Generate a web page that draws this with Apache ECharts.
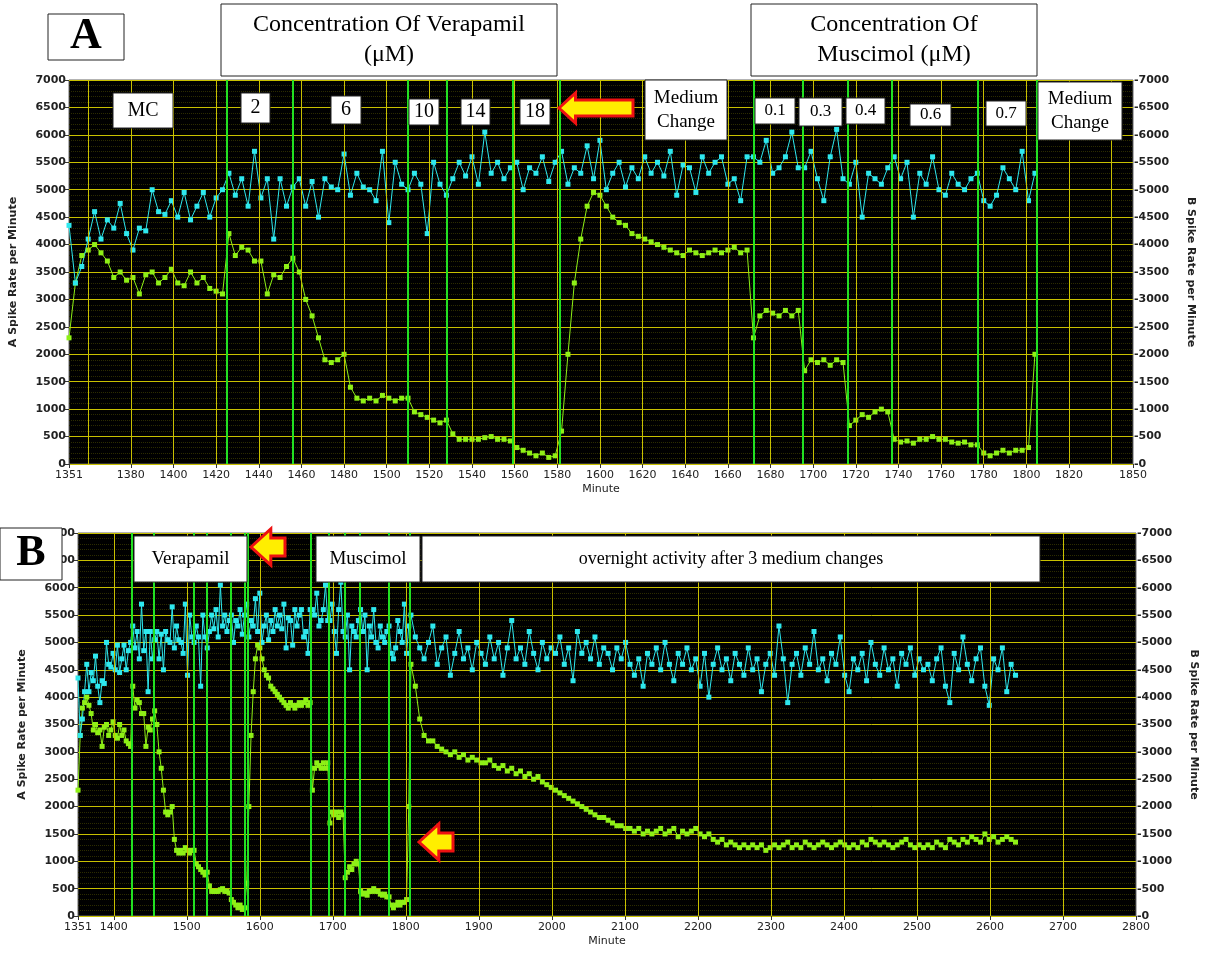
<!DOCTYPE html>
<html><head><meta charset="utf-8">
<script src="https://cdn.jsdelivr.net/npm/echarts@6/dist/echarts.min.js"></script>
<style>html,body{margin:0;padding:0;background:#fff}#c{width:1207px;height:957px}</style>
</head><body><div id="c"></div>
<script>
// ---- data ----
const startA = 1351, stepA = 3;
const greenA = [2300,3300,3800,3900,4000,3850,3700,3400,3500,3350,3400,3100,3450,3500,3300,3400,3550,3300,3250,3500,3300,3400,3200,3150,3100,
4200,3800,3950,3900,3700,3700,3100,3450,3400,3600,3750,
3500,3000,2700,2300,1900,1850,1900,2000,1400,1200,1150,1200,1150,1250,1200,1150,1200,1200,
950,900,850,800,750,800,
550,450,450,450,450,480,500,450,450,420,
300,250,200,150,200,120,150,
600,2000,3300,4100,4700,4950,4900,4700,4500,4400,4350,4200,4150,4100,4050,4000,3950,3900,3850,3800,3900,3850,3800,3850,3900,3850,3900,3950,3850,3900,
2300,2700,2800,2750,2700,2800,2700,2800,
1700,1900,1850,1900,1800,1900,1850,
700,800,900,850,950,1000,950,
450,400,420,380,450,450,500,450,450,400,380,400,350,
350,200,150,200,250,200,250,250,300,2000];
const cyanA = [4350,3300,3600,4100,4600,4100,4450,4300,4750,4200,3900,4300,4250,5000,4600,4550,4800,4500,4950,4450,4700,4950,4500,4850,5000,
5300,4900,5200,4700,5700,4850,5200,4100,5200,4700,5050,
5200,4700,5150,4500,5200,5050,5000,5650,4900,5300,5050,5000,4800,5700,4400,5500,5100,5000,
5300,5100,4200,5500,5100,4900,
5200,5500,5250,5600,5100,6050,5300,5500,5200,5400,
5500,5000,5400,5300,5600,5150,5500,
5700,5100,5400,5300,5800,5200,5900,5000,5300,5500,5050,5400,5200,5600,5300,5500,5250,5700,4900,5450,5400,4950,5600,5300,5500,5600,5100,5200,4800,5600,
5600,5500,5900,5300,5400,5600,6050,5400,
5400,5700,5200,4800,5600,6100,5200,
5100,5500,4500,5300,5200,5100,5400,
5600,5200,5500,4500,5300,5100,5600,5000,4900,5300,5100,5000,5200,
5300,4800,4700,4900,5400,5200,5000,5700,4800,5300];
const startExt = 1807, stepExt = 6;
const greenExt = [4600,4200,3600,3300,3200,3200,3100,
3050,3000,2950,3000,2900,2950,2850,2900,2850,2800,
2800,2850,2750,2700,2750,2650,2700,2600,2650,2550,2600,2500,2550,2450,2400,2350,
2300,2250,2200,2150,2100,2050,2000,1950,1900,1850,1800,1800,1750,1700,1650,1650,1600,
1600,1550,1600,1500,1550,1500,1550,1600,1500,1550,1600,1450,1550,1500,1550,1600,1500,
1450,1500,1400,1350,1400,1300,1350,1300,1250,1300,1250,1300,1250,1300,1200,1250,1300,
1250,1300,1350,1250,1300,1250,1350,1300,1250,1300,1350,1300,1250,1300,1350,1300,1250,
1300,1250,1350,1300,1400,1350,1300,1350,1300,1250,1300,1350,1400,1300,1250,1300,1250,
1300,1250,1350,1300,1250,1400,1350,1300,1400,1350,1450,1400,1350,1500,1400,1450,1350,1400,1450,1400,1350];
const cyanExt = [5500,5100,4900,4700,5000,5300,4600,4900,5100,4400,4800,5200,4700,4900,4500,5000,4800,
4600,5100,4700,5000,4400,4900,5400,4700,4900,4600,5200,4800,4500,5000,4700,4900,4800,
5100,4600,4900,4300,5200,4800,5000,4700,5100,4600,4900,4800,4500,4900,4700,5000,4600,
4400,4700,4200,4800,4600,4900,4500,5000,4600,4300,4800,4600,4900,4500,4700,4200,4800,
4000,4600,4900,4500,4700,4300,4800,4600,4400,4900,4500,4700,4100,4600,4800,4400,5300,
4700,3900,4600,4800,4400,4900,4600,5200,4500,4700,4300,4800,4600,5100,4400,4100,4700,
4500,4800,4300,5000,4600,4400,4900,4500,4700,4200,4800,4600,4900,4400,4700,4500,4600,
4300,4700,4900,4200,3900,4800,4500,5100,4600,4300,4700,4900,4200,3850,4700,4500,4900,4100,4600,4400];
const labelsA = [1351,1380,1400,1420,1440,1460,1480,1500,1520,1540,1560,1580,1600,1620,1640,1660,1680,1700,1720,1740,1760,1780,1800,1820,1850];
const labelsB = [1351,1400,1500,1600,1700,1800,1900,2000,2100,2200,2300,2400,2500,2600,2700,2800];
const gridA = [1360,1380,1400,1420,1440,1460,1480,1500,1520,1540,1560,1580,1600,1620,1640,1660,1680,1700,1720,1740,1760,1780,1800,1820,1840];
const gridB = [1400,1500,1600,1700,1800,1900,2000,2100,2200,2300,2400,2500,2600,2700];
const eventsA = [1425,1456,1510,1528,1559,1581,1672,1695,1716,1737,1777,1805];
const eventsB = [1425,1455,1510,1527,1560,1580,1583,1670,1695,1716,1737,1777,1805];

const pairs = (s, st, arr) => arr.map((v,i)=>[s+i*st, v]);
const dA_g = pairs(startA, stepA, greenA), dA_c = pairs(startA, stepA, cyanA);
const dB_g = dA_g.concat(pairs(startExt, stepExt, greenExt));
const dB_c = dA_c.concat(pairs(startExt, stepExt, cyanExt));

const CYAN = '#2ee8ee', GREEN = '#8ef016';
const font = 'DejaVu Sans';
function xAx(gi, min, max, labels){
  return {type:'value', gridIndex:gi, min, max, name:'Minute', nameLocation:'middle', nameGap:20,
    nameTextStyle:{fontFamily:font,fontSize:11,color:'#222'},
    axisLine:{show:false}, splitLine:{show:false},
    axisTick:{show:true, customValues:labels, length:4, lineStyle:{color:'#333'}},
    axisLabel:{customValues:labels, formatter:v=>String(v), fontFamily:font, fontSize:11, color:'#222', margin:6}};
}
function yAx(gi, pos, name){
  const left = pos==='left';
  return {type:'value', gridIndex:gi, min:0, max:7000, interval:500, position:pos,
    name, nameLocation:'middle', nameGap: left?50:52, nameRotate: left?90:-90,
    nameTextStyle:{fontFamily:font,fontSize:11,fontWeight:'bold',color:'#222'},
    axisLine:{show:false}, axisTick:{show:left,length:5,lineStyle:{color:'#333'}},
    axisLabel:{formatter: left ? (v=>String(v)) : (v=>'-'+v), fontFamily:font,fontSize:11,color:'#222',margin:left?3:1,fontWeight:'bold'},
    splitLine:{show:left, lineStyle:{color:'#c8c000',width:1}},
    minorTick:{show:false}, minorSplitLine:{show:left, lineStyle:{color:'#2c2c00',width:1,type:'dotted'}}};
}
function vlines(xi, yi, xs, color, width, z){
  return {type:'line', xAxisIndex:xi, yAxisIndex:yi, data:[], silent:true, z,
    markLine:{symbol:'none', silent:true, label:{show:false}, animation:false,
      lineStyle:{color, width, type:'solid'}, data: xs.map(x=>({xAxis:x}))}};
}
function ser(xi, yi, data, color, z){
  return {type:'line', xAxisIndex:xi, yAxisIndex:yi, data, symbol:'rect', symbolSize:5, z,
    lineStyle:{color, width:1}, itemStyle:{color}, animation:false};
}
const serif = 'Liberation Serif';
function box(x,y,w,h,text,fs,extra){
  return {type:'group', z:100, children:[
    {type:'rect', z:100, shape:{x,y,width:w,height:h}, style:{fill:'#fff', stroke:'#222', lineWidth:1}},
    {type:'text', z:101, x:x+w/2, y:y+h/2, style:Object.assign({text, font:fs+'px "'+serif+'"', fill:'#000', align:'center', verticalAlign:'middle', lineHeight:fs*1.25}, extra||{})}]};
}
function arrow(tipX, tipY, len, hh, sh){
  const hx = tipX + hh*1.1;
  return {type:'polygon', z:102, shape:{points:[[tipX,tipY],[hx,tipY-hh],[hx,tipY-sh],[tipX+len,tipY-sh],[tipX+len,tipY+sh],[hx,tipY+sh],[hx,tipY+hh]]},
    style:{fill:'#ffee00', stroke:'#ee1111', lineWidth:3}};
}
const chart = echarts.init(document.getElementById('c'));
chart.setOption({
  backgroundColor:'#fff', animation:false,
  grid:[{left:66, right:74, top:80, height:384, show:true, backgroundColor:'#000', borderColor:'#666'},
        {left:78, right:54, top:533, height:383, show:true, backgroundColor:'#000', borderColor:'#666'}],
  xAxis:[xAx(0,1351,1850,labelsA), xAx(1,1351,2800,labelsB)],
  yAxis:[yAx(0,'left','A Spike Rate per Minute'), yAx(0,'right','B Spike Rate per Minute'),
         yAx(1,'left','A Spike Rate per Minute'), yAx(1,'right','B Spike Rate per Minute')],
  series:[
    vlines(0,0,gridA,'#c8c000',1,1),
    vlines(1,2,gridB,'#c8c000',1,1),
    ser(0,0,dA_g,GREEN,3), ser(0,1,dA_c,CYAN,3),
    ser(1,2,dB_g,GREEN,3), ser(1,3,dB_c,CYAN,3),
    vlines(0,0,eventsA,'#22e022',2,5),
    vlines(1,2,eventsB,'#22e022',2,5)
  ],
  graphic:[
    box(48,14,76,46,'A',44,{font:'bold 44px "'+serif+'"'}),
    box(221,4,336,72,'Concentration Of Verapamil\n(\u03bcM)',24),
    box(751,4,286,72,'Concentration Of\nMuscimol (\u03bcM)',24),
    box(113,93,60,35,'MC',20),
    box(241,93,29,30,'2',20),
    box(331,96,30,28,'6',20),
    box(409,99,30,26,'10',20),
    box(461,99,29,26,'14',20),
    box(520,99,30,26,'18',20),
    box(645,80,82,60,'Medium\nChange',19),
    box(755,98,40,26,'0.1',17),
    box(799,98,43,28,'0.3',17),
    box(846,98,39,26,'0.4',17),
    box(910,104,41,22,'0.6',17),
    box(986,101,40,25,'0.7',17),
    box(1038,82,84,58,'Medium\nChange',19),
    arrow(559,108,74,15,8),
    box(0,528,62,52,'B',44,{font:'bold 44px "'+serif+'"'}),
    box(134,536,113,46,'Verapamil',19),
    box(316,536,104,46,'Muscimol',19),
    box(422,536,618,46,'overnight activity after 3 medium changes',18),
    arrow(251,547,34,18,9),
    arrow(419,842,34,18,9)
  ]
});
</script></body></html>
